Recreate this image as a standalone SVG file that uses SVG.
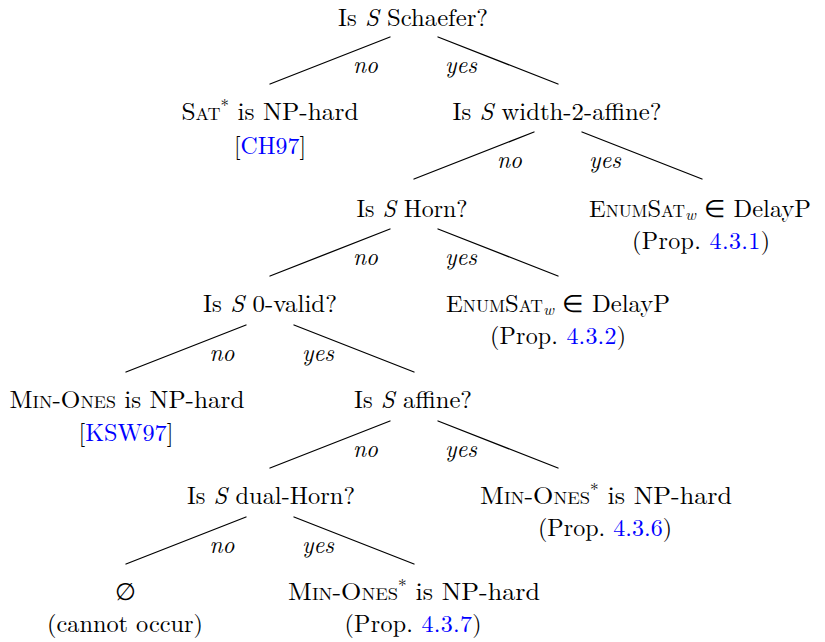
<svg xmlns="http://www.w3.org/2000/svg" width="825" height="642" viewBox="0 0 825 642">
  <style>
    text { font-family: 'Latin Modern Roman', serif; font-size: 24px; fill: #000; text-anchor: middle; }
    .i { font-style: italic; }
    .sc { font-variant: small-caps; }
    .ref { fill: #0000ff; }
    .edges line { stroke: #000; stroke-width: 1.3; stroke-linecap: round; fill: none; }
    .lbl { font-style: italic; }
  </style>
  <rect width="825" height="642" fill="#fff"/>

  <!-- decision edges with their yes/no labels -->
  <g id="connectors" class="edges">
    <line x1="390" y1="37" x2="270" y2="84"/>
    <line x1="438" y1="37" x2="558" y2="84"/>
    <text class="lbl" x="365.5" y="73" textLength="25" lengthAdjust="spacingAndGlyphs">no</text>
    <text class="lbl" x="461" y="73" textLength="32" lengthAdjust="spacingAndGlyphs">yes</text>

    <line x1="534" y1="132" x2="414" y2="179"/>
    <line x1="582" y1="132" x2="702" y2="179"/>
    <text class="lbl" x="509.5" y="168" textLength="25" lengthAdjust="spacingAndGlyphs">no</text>
    <text class="lbl" x="605" y="168" textLength="32" lengthAdjust="spacingAndGlyphs">yes</text>

    <line x1="390" y1="229" x2="270" y2="276"/>
    <line x1="438" y1="229" x2="558" y2="276"/>
    <text class="lbl" x="365.5" y="265" textLength="25" lengthAdjust="spacingAndGlyphs">no</text>
    <text class="lbl" x="461" y="265" textLength="32" lengthAdjust="spacingAndGlyphs">yes</text>

    <line x1="246" y1="325" x2="126" y2="372"/>
    <line x1="294" y1="325" x2="414" y2="372"/>
    <text class="lbl" x="222" y="361" textLength="25" lengthAdjust="spacingAndGlyphs">no</text>
    <text class="lbl" x="318" y="361" textLength="32" lengthAdjust="spacingAndGlyphs">yes</text>

    <line x1="390" y1="421" x2="270" y2="468"/>
    <line x1="438" y1="421" x2="558" y2="468"/>
    <text class="lbl" x="365.5" y="457" textLength="25" lengthAdjust="spacingAndGlyphs">no</text>
    <text class="lbl" x="461" y="457" textLength="32" lengthAdjust="spacingAndGlyphs">yes</text>

    <line x1="246" y1="517" x2="126" y2="564"/>
    <line x1="294" y1="517" x2="414" y2="564"/>
    <text class="lbl" x="222" y="553" textLength="25" lengthAdjust="spacingAndGlyphs">no</text>
    <text class="lbl" x="318" y="553" textLength="32" lengthAdjust="spacingAndGlyphs">yes</text>
  </g>

  <g id="q-schaefer">
    <text x="413" y="26" textLength="150" lengthAdjust="spacingAndGlyphs">Is <tspan class="i">S</tspan> Schaefer?</text>
  </g>

  <g id="r-sat-hard">
    <text x="270" y="120" textLength="177" lengthAdjust="spacingAndGlyphs"><tspan class="sc">Sat</tspan><tspan font-size="16" dy="-9">*</tspan><tspan dy="9"> is NP-hard</tspan></text>
    <text x="270" y="154" textLength="72" lengthAdjust="spacingAndGlyphs">[<tspan class="ref">CH97</tspan>]</text>
  </g>

  <g id="q-width2">
    <text x="557" y="120" textLength="209" lengthAdjust="spacingAndGlyphs">Is <tspan class="i">S</tspan> width-2-affine?</text>
  </g>

  <g id="q-horn">
    <text x="412" y="217" textLength="111" lengthAdjust="spacingAndGlyphs">Is <tspan class="i">S</tspan> Horn?</text>
  </g>

  <g id="r-enum-1">
    <text x="700" y="217" textLength="222" lengthAdjust="spacingAndGlyphs"><tspan class="sc">EnumSat</tspan><tspan class="i" font-size="16" dy="3">w</tspan><tspan dy="-3"> ∈ DelayP</tspan></text>
    <text x="701" y="249" textLength="138" lengthAdjust="spacing">(Prop. <tspan class="ref">4.3.1</tspan>)</text>
  </g>

  <g id="q-0valid">
    <text x="270" y="312" textLength="134" lengthAdjust="spacingAndGlyphs">Is <tspan class="i">S</tspan> 0-valid?</text>
  </g>

  <g id="r-enum-2">
    <text x="558" y="312" textLength="224" lengthAdjust="spacingAndGlyphs"><tspan class="sc">EnumSat</tspan><tspan class="i" font-size="16" dy="3">w</tspan><tspan dy="-3"> ∈ DelayP</tspan></text>
    <text x="558" y="344" textLength="136" lengthAdjust="spacing">(Prop. <tspan class="ref">4.3.2</tspan>)</text>
  </g>

  <g id="r-minones-hard">
    <text x="127" y="408" textLength="235" lengthAdjust="spacingAndGlyphs"><tspan class="sc">Min-Ones</tspan> is NP-hard</text>
    <text x="126" y="441" textLength="95" lengthAdjust="spacingAndGlyphs">[<tspan class="ref">KSW97</tspan>]</text>
  </g>

  <g id="q-affine">
    <text x="413" y="408" textLength="118" lengthAdjust="spacingAndGlyphs">Is <tspan class="i">S</tspan> affine?</text>
  </g>

  <g id="q-dualhorn">
    <text x="271" y="504" textLength="168" lengthAdjust="spacingAndGlyphs">Is <tspan class="i">S</tspan> dual-Horn?</text>
  </g>

  <g id="r-minones-1">
    <text x="606" y="504" textLength="252" lengthAdjust="spacingAndGlyphs"><tspan class="sc">Min-Ones</tspan><tspan font-size="16" dy="-9">*</tspan><tspan dy="9"> is NP-hard</tspan></text>
    <text x="605" y="536" textLength="134" lengthAdjust="spacing">(Prop. <tspan class="ref">4.3.6</tspan>)</text>
  </g>

  <g id="r-empty">
    <text x="125" y="600">∅</text>
    <text x="125" y="632" textLength="156" lengthAdjust="spacingAndGlyphs">(cannot occur)</text>
  </g>

  <g id="r-minones-2">
    <text x="414" y="600" textLength="252" lengthAdjust="spacingAndGlyphs"><tspan class="sc">Min-Ones</tspan><tspan font-size="16" dy="-9">*</tspan><tspan dy="9"> is NP-hard</tspan></text>
    <text x="413" y="632" textLength="137" lengthAdjust="spacing">(Prop. <tspan class="ref">4.3.7</tspan>)</text>
  </g>
</svg>
